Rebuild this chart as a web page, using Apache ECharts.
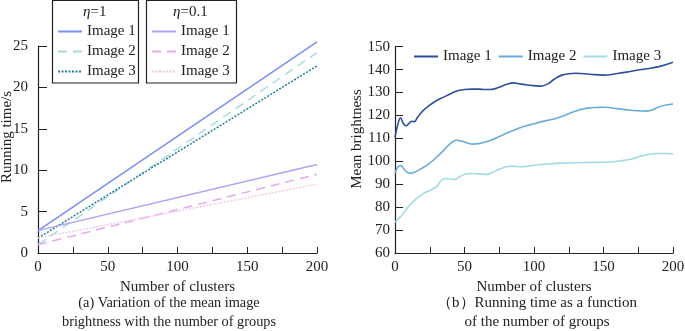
<!DOCTYPE html>
<html>
<head>
<meta charset="utf-8">
<script src="https://cdn.jsdelivr.net/npm/echarts@6/dist/echarts.min.js"></script>
<style>html,body{margin:0;padding:0;background:#fff}#c{width:685px;height:331px}</style>
</head>
<body>
<div id="c"></div>
<script>
// ---- Left chart (running time vs clusters), straight lines: endpoints
const leftX = [0, 200];
const eta1Img1 = [2.7, 25.5];
const eta1Img2 = [1.0, 24.2];
const eta1Img3 = [1.8, 22.6];
const eta01Img1 = [2.7, 10.7];
const eta01Img2 = [1.0, 9.5];
const eta01Img3 = [1.8, 8.3];
const leftYTicks = [0, 5, 10, 15, 20, 25];

// ---- Right chart (mean brightness vs clusters)
const img1X = [0, 2, 4, 6, 8, 10, 12, 14, 16, 20, 25, 30, 35, 40, 45, 50, 55, 60, 65, 70, 75, 80, 85, 90, 95, 100, 105, 110, 115, 120, 125, 130, 140, 150, 160, 170, 180, 190, 200];
const img1Y = [110.5, 116, 119, 116.5, 115.5, 116.5, 117.5, 117.3, 119, 122, 124.5, 126.5, 128, 129.5, 130.8, 131.3, 131.5, 131.5, 131.3, 131.4, 132.3, 133.5, 134.2, 133.8, 133.3, 133, 132.8, 133.8, 136, 137.6, 138.2, 138.4, 138.0, 137.6, 138.3, 139.3, 140.3, 141.3, 143.2];
const img2X = [0, 2, 4, 6, 8, 11, 15, 20, 25, 30, 35, 40, 44, 48, 52, 56, 60, 65, 70, 75, 80, 85, 90, 95, 100, 105, 110, 115, 120, 125, 130, 135, 140, 145, 150, 155, 160, 170, 180, 185, 190, 195, 200];
const img2Y = [94.9, 97.5, 98.2, 97, 95.5, 94.8, 95.5, 97.2, 99.2, 101.8, 104.8, 107.8, 109.2, 108.8, 108, 107.5, 107.7, 108.4, 109.4, 110.8, 112.2, 113.4, 114.6, 115.6, 116.4, 117.2, 117.9, 118.6, 119.6, 120.8, 121.9, 122.8, 123.3, 123.5, 123.6, 123.4, 123.0, 122.3, 121.9, 122.4, 123.8, 124.6, 125];
const img3X = [0, 5, 10, 15, 20, 25, 30, 33, 36, 40, 43, 47, 51, 55, 60, 66, 70, 75, 80, 85, 90, 95, 100, 110, 120, 130, 140, 150, 157, 165, 170, 175, 180, 188, 195, 200];
const img3Y = [73.5, 76.5, 80.5, 83.5, 85.8, 87.3, 89, 91.5, 92.5, 92.3, 92.1, 93.5, 94.5, 94.7, 94.5, 94.3, 95.2, 96.5, 97.6, 97.9, 97.6, 97.8, 98.3, 98.8, 99.2, 99.4, 99.5, 99.6, 99.8, 100.4, 101, 101.9, 102.7, 103.4, 103.4, 103.2];

const legendNames = ['Image 1', 'Image 2', 'Image 3'];
const FONT = 'Liberation Serif';

function pairs(xs, ys) { return xs.map((x, i) => [x, ys[i]]); }

const leftSeriesDefs = [
  {id: 'a1', label: legendNames[0], data: eta1Img1, color: '#7b8ef2', type: 'solid'},
  {id: 'a2', label: legendNames[1], data: eta1Img2, color: '#a8dcdc', type: [9, 6]},
  {id: 'a3', label: legendNames[2], data: eta1Img3, color: '#1f7f9b', type: [2, 1.5]},
  {id: 'b1', label: legendNames[0], data: eta01Img1, color: '#b3a0f3', type: 'solid'},
  {id: 'b2', label: legendNames[1], data: eta01Img2, color: '#e4a9f0', type: [9, 6]},
  {id: 'b3', label: legendNames[2], data: eta01Img3, color: '#f7c8e6', type: [2, 1.5]}
];
const nameMap = {};
leftSeriesDefs.forEach(d => nameMap[d.id] = d.label);

const series = leftSeriesDefs.map(d => ({
  name: d.id, type: 'line', xAxisIndex: 0, yAxisIndex: 0,
  data: pairs(leftX, d.data), symbol: 'none', clip: false,
  lineStyle: {color: d.color, width: 1.5, type: d.type},
  itemStyle: {color: d.color}
}));
const rightDefs = [
  {name: legendNames[0], xs: img1X, ys: img1Y, color: '#2c4f9e'},
  {name: legendNames[1], xs: img2X, ys: img2Y, color: '#68abdc'},
  {name: legendNames[2], xs: img3X, ys: img3Y, color: '#a2dbe6'}
];
rightDefs.forEach(d => series.push({
  name: d.name, type: 'line', xAxisIndex: 1, yAxisIndex: 1,
  data: pairs(d.xs, d.ys), symbol: 'none', smooth: 0.4,
  lineStyle: {color: d.color, width: 1.6}, itemStyle: {color: d.color}
}));

const axisLine = {show: true, onZero: false, lineStyle: {color: '#222', width: 1.2}};
const labelStyle = {color: '#222', fontFamily: FONT, fontSize: 15};
const nameStyle = {color: '#222', fontFamily: FONT, fontSize: 15};
const legendCommon = {itemWidth: 24, itemHeight: 14, padding: 0, itemStyle: {opacity: 0},
  textStyle: {fontFamily: FONT, fontSize: 15, color: '#222'}};

const option = {
  animation: false,
  textStyle: {fontFamily: FONT},
  grid: [
    {left: 38, right: 368, top: 46, bottom: 78, outerBoundsMode: 'none', containLabel: false},
    {left: 395, right: 12, top: 46.7, bottom: 78, outerBoundsMode: 'none', containLabel: false}
  ],
  xAxis: [
    {type: 'value', gridIndex: 0, min: 0, max: 200, interval: 25,
     axisLine, axisTick: {inside: true, length: 6, lineStyle: {color: '#222'}},
     splitLine: {show: false},
     axisLabel: Object.assign({margin: 7, formatter: v => v % 50 === 0 ? v : ''}, labelStyle),
     name: 'Number of clusters', nameLocation: 'middle', nameGap: 24, nameTextStyle: nameStyle},
    {type: 'value', gridIndex: 1, min: 0, max: 200, interval: 25,
     axisLine, axisTick: {inside: true, length: 6, lineStyle: {color: '#222'}},
     splitLine: {show: false},
     axisLabel: Object.assign({margin: 7, formatter: v => v % 50 === 0 ? v : ''}, labelStyle),
     name: 'Number of clusters', nameLocation: 'middle', nameGap: 24, nameTextStyle: nameStyle}
  ],
  yAxis: [
    {type: 'value', gridIndex: 0, min: leftYTicks[0], max: leftYTicks[leftYTicks.length - 1], interval: 5,
     axisLine, axisTick: {inside: true, length: 9, lineStyle: {color: '#222'}},
     splitLine: {show: false}, axisLabel: Object.assign({margin: 10}, labelStyle)},
    {type: 'value', gridIndex: 1, min: 60, max: 150, interval: 10,
     axisLine, axisTick: {inside: true, length: 8, lineStyle: {color: '#222'}},
     splitLine: {show: false}, axisLabel: Object.assign({margin: 5}, labelStyle)}
  ],
  legend: [
    Object.assign({orient: 'vertical', left: 57, top: 24, itemGap: 5,
     data: ['a1', 'a2', 'a3'], formatter: n => nameMap[n]}, legendCommon),
    Object.assign({orient: 'vertical', left: 151, top: 24, itemGap: 5,
     data: ['b1', 'b2', 'b3'], formatter: n => nameMap[n]}, legendCommon),
    Object.assign({orient: 'horizontal', left: 413, top: 49, itemGap: 6,
     data: legendNames}, legendCommon)
  ],
  graphic: [
    {type: 'rect', shape: {x: 52.5, y: 0.5, width: 86, height: 82.5}, style: {fill: 'none', stroke: '#222', lineWidth: 1.2}, z: 10},
    {type: 'rect', shape: {x: 146.5, y: 0.5, width: 90, height: 82.5}, style: {fill: 'none', stroke: '#222', lineWidth: 1.2}, z: 10},
    {type: 'text', left: 83, top: 5, z: 10, style: {text: '{i|η}=1', font: '15px "Liberation Serif"', fill: '#222',
      rich: {i: {fontStyle: 'italic', fontFamily: FONT, fontSize: 15}}}},
    {type: 'text', left: 173, top: 5, z: 10, style: {text: '{i|η}=0.1', font: '15px "Liberation Serif"', fill: '#222',
      rich: {i: {fontStyle: 'italic', fontFamily: FONT, fontSize: 15}}}},
    {type: 'text', x: 7, y: 137, rotation: Math.PI / 2, style: {text: 'Running time/s',
      align: 'center', verticalAlign: 'middle', font: '15px "Liberation Serif"', fill: '#222'}},
    {type: 'text', x: 357, y: 139, rotation: Math.PI / 2, style: {text: 'Mean brightness',
      align: 'center', verticalAlign: 'middle', font: '15px "Liberation Serif"', fill: '#222'}},
    {type: 'text', x: 169, y: 294, style: {text: '(a) Variation of the mean image\nbrightness with the number of groups',
      align: 'center', verticalAlign: 'top', font: '14.3px "Liberation Serif"', fill: '#222', lineHeight: 19}},
    {type: 'text', x: 537, y: 294, style: {text: '（b）Running time as a function\nof the number of groups',
      align: 'center', verticalAlign: 'top', font: '15px "Liberation Serif"', fill: '#222', lineHeight: 19}}
  ],
  series
};
const chart = echarts.init(document.getElementById('c'), null, {renderer: 'canvas'});
chart.setOption(option);
</script>
</body>
</html>
